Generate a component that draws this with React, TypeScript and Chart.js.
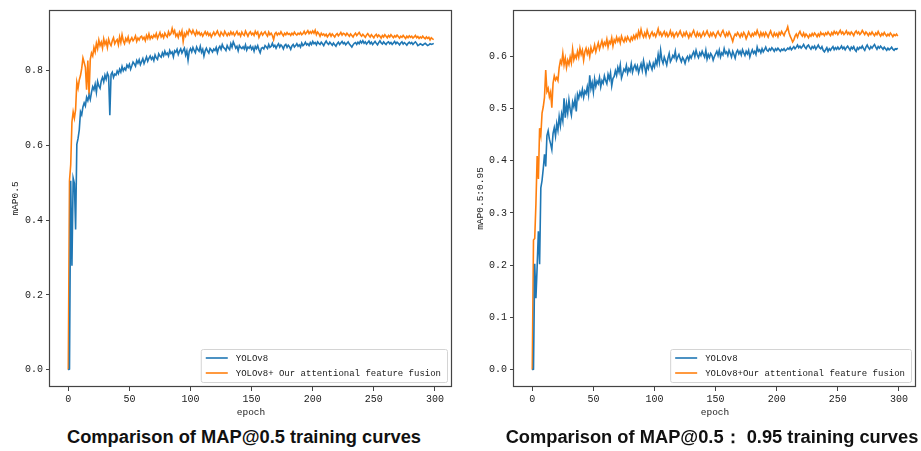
import React, { useEffect, useRef } from "react";
import { Chart, registerables } from "chart.js";

Chart.register(...registerables);

// ---------------- data ----------------
const EPOCHS: number[] = Array.from({ length: 300 }, (_, i) => i);

const X_TICKS = [0, 50, 100, 150, 200, 250, 300];
const Y_TICKS_MAP50 = [0, 0.2, 0.4, 0.6, 0.8];
const Y_TICKS_MAP5095 = [0, 0.1, 0.2, 0.3, 0.4, 0.5, 0.6];

const LABEL_BASE = "YOLOv8";
const LABEL_OURS_MAP50 = "YOLOv8+ Our attentional feature fusion";
const LABEL_OURS_MAP5095 = "YOLOv8+Our attentional feature fusion";

const CAPTION_MAP50 = "Comparison of MAP@0.5 training curves";
const CAPTION_MAP5095 = "Comparison of MAP@0.5\uFF1A 0.95 training curves";

const MAP50_YOLOV8 = [
  0.000, 0.002, 0.505, 0.278, 0.512, 0.498, 0.375, 0.602, 0.618, 0.641,
  0.689, 0.681, 0.702, 0.713, 0.705, 0.728, 0.719, 0.734, 0.722, 0.741,
  0.756, 0.748, 0.763, 0.741, 0.770, 0.758, 0.752, 0.772, 0.781, 0.769,
  0.787, 0.776, 0.792, 0.784, 0.680, 0.789, 0.795, 0.781, 0.790, 0.787,
  0.798, 0.791, 0.803, 0.795, 0.810, 0.799, 0.806, 0.801, 0.814, 0.808,
  0.816, 0.803, 0.812, 0.822, 0.817, 0.811, 0.826, 0.819, 0.828, 0.815,
  0.823, 0.831, 0.818, 0.827, 0.836, 0.824, 0.832, 0.838, 0.829, 0.835,
  0.826, 0.841, 0.833, 0.829, 0.844, 0.838, 0.835, 0.847, 0.839, 0.851,
  0.842, 0.846, 0.838, 0.853, 0.845, 0.849, 0.836, 0.852, 0.848, 0.856,
  0.842, 0.851, 0.857, 0.846, 0.853, 0.859, 0.841, 0.852, 0.827, 0.851,
  0.858, 0.849, 0.861, 0.853, 0.847, 0.862, 0.855, 0.851, 0.864, 0.848,
  0.856, 0.838, 0.852, 0.859, 0.851, 0.846, 0.858, 0.854, 0.849, 0.857,
  0.853, 0.861, 0.847, 0.859, 0.864, 0.856, 0.869, 0.861, 0.858, 0.853,
  0.866, 0.859, 0.855, 0.871, 0.862, 0.876, 0.868, 0.859, 0.864, 0.852,
  0.866, 0.861, 0.858, 0.863, 0.857, 0.868, 0.854, 0.862, 0.859, 0.865,
  0.856, 0.862, 0.851, 0.864, 0.858, 0.866, 0.855, 0.847, 0.859, 0.861,
  0.857, 0.866, 0.862, 0.858, 0.869, 0.861, 0.864, 0.872, 0.863, 0.867,
  0.859, 0.866, 0.871, 0.862, 0.868, 0.864, 0.857, 0.866, 0.869, 0.861,
  0.867, 0.863, 0.856, 0.865, 0.869, 0.862, 0.866, 0.871, 0.864, 0.868,
  0.862, 0.873, 0.866, 0.869, 0.875, 0.868, 0.871, 0.866, 0.874, 0.869,
  0.877, 0.871, 0.874, 0.868, 0.876, 0.872, 0.869, 0.875, 0.871, 0.866,
  0.873, 0.878, 0.872, 0.869, 0.875, 0.871, 0.867, 0.873, 0.868, 0.864,
  0.871, 0.875, 0.869, 0.873, 0.877, 0.871, 0.874, 0.868, 0.872, 0.876,
  0.870, 0.866, 0.862, 0.868, 0.872, 0.874, 0.869, 0.875, 0.871, 0.878,
  0.873, 0.879, 0.872, 0.876, 0.870, 0.874, 0.878, 0.871, 0.875, 0.869,
  0.873, 0.877, 0.872, 0.868, 0.874, 0.879, 0.873, 0.870, 0.876, 0.872,
  0.869, 0.874, 0.876, 0.871, 0.874, 0.869, 0.873, 0.877, 0.871, 0.875,
  0.872, 0.868, 0.873, 0.876, 0.870, 0.874, 0.871, 0.867, 0.872, 0.875,
  0.871, 0.874, 0.869, 0.873, 0.876, 0.872, 0.866, 0.868, 0.871, 0.869,
  0.867, 0.870, 0.872, 0.869, 0.866, 0.868, 0.871, 0.869, 0.870, 0.872,
];

const MAP50_OURS = [
  0.000, 0.505, 0.548, 0.662, 0.689, 0.672, 0.695, 0.768, 0.752, 0.774,
  0.786, 0.805, 0.833, 0.821, 0.808, 0.748, 0.826, 0.735, 0.829, 0.846,
  0.838, 0.861, 0.849, 0.872, 0.858, 0.881, 0.866, 0.875, 0.859, 0.884,
  0.869, 0.878, 0.861, 0.883, 0.872, 0.866, 0.879, 0.887, 0.871, 0.878,
  0.882, 0.868, 0.889, 0.874, 0.895, 0.879, 0.871, 0.885, 0.878, 0.889,
  0.874, 0.881, 0.887, 0.879, 0.884, 0.892, 0.877, 0.886, 0.881, 0.889,
  0.891, 0.883, 0.888, 0.879, 0.893, 0.885, 0.897, 0.884, 0.891, 0.886,
  0.894, 0.889, 0.898, 0.885, 0.893, 0.901, 0.889, 0.895, 0.887, 0.899,
  0.893, 0.889, 0.903, 0.894, 0.898, 0.912, 0.899, 0.906, 0.891, 0.897,
  0.888, 0.902, 0.894, 0.905, 0.877, 0.898, 0.891, 0.903, 0.896, 0.909,
  0.904, 0.898, 0.907, 0.899, 0.893, 0.905, 0.897, 0.902, 0.894, 0.899,
  0.891, 0.897, 0.903, 0.895, 0.901, 0.893, 0.898, 0.889, 0.896, 0.902,
  0.894, 0.899, 0.905, 0.896, 0.891, 0.902, 0.897, 0.893, 0.904, 0.898,
  0.892, 0.899, 0.894, 0.903, 0.896, 0.901, 0.893, 0.898, 0.904, 0.895,
  0.899, 0.891, 0.902, 0.896, 0.893, 0.905, 0.898, 0.891, 0.899, 0.903,
  0.895, 0.899, 0.893, 0.904, 0.897, 0.902, 0.888, 0.896, 0.901, 0.894,
  0.899, 0.903, 0.896, 0.891, 0.902, 0.895, 0.899, 0.893, 0.882, 0.897,
  0.901, 0.894, 0.899, 0.896, 0.903, 0.897, 0.892, 0.899, 0.895, 0.901,
  0.896, 0.898, 0.893, 0.899, 0.895, 0.902, 0.897, 0.894, 0.899, 0.896,
  0.901, 0.895, 0.898, 0.904, 0.897, 0.901, 0.906, 0.898, 0.903, 0.899,
  0.905, 0.899, 0.907, 0.895, 0.902, 0.898, 0.891, 0.899, 0.894, 0.897,
  0.892, 0.896, 0.889, 0.894, 0.898, 0.891, 0.897, 0.893, 0.889, 0.895,
  0.898, 0.892, 0.896, 0.901, 0.894, 0.899, 0.897, 0.893, 0.899, 0.895,
  0.891, 0.897, 0.893, 0.889, 0.895, 0.899, 0.893, 0.897, 0.901, 0.895,
  0.891, 0.896, 0.892, 0.888, 0.894, 0.898, 0.893, 0.889, 0.895, 0.891,
  0.887, 0.893, 0.896, 0.889, 0.894, 0.891, 0.886, 0.893, 0.889, 0.895,
  0.891, 0.887, 0.893, 0.889, 0.895, 0.891, 0.887, 0.892, 0.889, 0.894,
  0.890, 0.886, 0.891, 0.888, 0.893, 0.889, 0.885, 0.891, 0.887, 0.892,
  0.888, 0.891, 0.886, 0.889, 0.893, 0.887, 0.890, 0.885, 0.889, 0.886,
  0.891, 0.887, 0.884, 0.889, 0.885, 0.888, 0.881, 0.887, 0.884, 0.882,
];

const MAP5095_YOLOV8 = [
  0.000, 0.001, 0.203, 0.137, 0.198, 0.265, 0.202, 0.348, 0.362, 0.385,
  0.412, 0.389, 0.448, 0.457, 0.441, 0.432, 0.421, 0.452, 0.463, 0.447,
  0.471, 0.458, 0.484, 0.467, 0.489, 0.476, 0.519, 0.482, 0.508, 0.491,
  0.516, 0.498, 0.487, 0.512, 0.503, 0.518, 0.494, 0.527, 0.519, 0.531,
  0.524, 0.536, 0.521, 0.533, 0.528, 0.541, 0.526, 0.563, 0.538, 0.549,
  0.531, 0.556, 0.542, 0.552, 0.547, 0.559, 0.541, 0.553, 0.548, 0.562,
  0.553, 0.547, 0.565, 0.556, 0.568, 0.543, 0.557, 0.561, 0.572, 0.563,
  0.578, 0.569, 0.583, 0.558, 0.566, 0.575, 0.571, 0.582, 0.567, 0.576,
  0.571, 0.585, 0.569, 0.578, 0.583, 0.574, 0.581, 0.568, 0.577, 0.585,
  0.573, 0.591, 0.579, 0.567, 0.583, 0.576, 0.588, 0.581, 0.574, 0.586,
  0.579, 0.592, 0.584, 0.603, 0.588, 0.611, 0.593, 0.586, 0.598, 0.591,
  0.583, 0.596, 0.605, 0.589, 0.594, 0.601, 0.597, 0.609, 0.592, 0.598,
  0.603, 0.595, 0.589, 0.597, 0.593, 0.586, 0.595, 0.599, 0.592, 0.601,
  0.596, 0.603, 0.608, 0.599, 0.611, 0.602, 0.597, 0.606, 0.601, 0.609,
  0.603, 0.598, 0.611, 0.594, 0.603, 0.597, 0.605, 0.601, 0.592, 0.599,
  0.604, 0.609, 0.601, 0.611, 0.598, 0.606, 0.602, 0.614, 0.605, 0.608,
  0.601, 0.611, 0.605, 0.598, 0.609, 0.603, 0.596, 0.607, 0.611, 0.604,
  0.609, 0.602, 0.612, 0.606, 0.601, 0.609, 0.604, 0.611, 0.598, 0.606,
  0.612, 0.605, 0.609, 0.603, 0.617, 0.609, 0.612, 0.606, 0.614, 0.608,
  0.612, 0.617, 0.611, 0.609, 0.614, 0.611, 0.616, 0.613, 0.609, 0.614,
  0.611, 0.615, 0.612, 0.609, 0.613, 0.611, 0.614, 0.610, 0.612, 0.615,
  0.613, 0.617, 0.612, 0.615, 0.618, 0.614, 0.617, 0.621, 0.616, 0.619,
  0.615, 0.618, 0.622, 0.617, 0.614, 0.619, 0.621, 0.616, 0.613, 0.618,
  0.615, 0.619, 0.613, 0.617, 0.621, 0.616, 0.614, 0.618, 0.611, 0.608,
  0.612, 0.616, 0.609, 0.614, 0.611, 0.615, 0.618, 0.612, 0.616, 0.613,
  0.617, 0.613, 0.615, 0.619, 0.614, 0.617, 0.612, 0.616, 0.619, 0.615,
  0.611, 0.617, 0.614, 0.618, 0.612, 0.609, 0.616, 0.613, 0.617, 0.615,
  0.619, 0.614, 0.611, 0.617, 0.621, 0.616, 0.613, 0.618, 0.615, 0.619,
  0.622, 0.617, 0.613, 0.618, 0.615, 0.619, 0.616, 0.613, 0.617, 0.614,
  0.611, 0.615, 0.612, 0.614, 0.617, 0.613, 0.611, 0.614, 0.613, 0.615,
];

const MAP5095_OURS = [
  0.000, 0.248, 0.251, 0.318, 0.409, 0.365, 0.462, 0.448, 0.491, 0.503,
  0.521, 0.573, 0.532, 0.538, 0.522, 0.531, 0.501, 0.548, 0.562, 0.554,
  0.559, 0.553, 0.578, 0.591, 0.585, 0.605, 0.583, 0.596, 0.578, 0.592,
  0.584, 0.598, 0.587, 0.613, 0.593, 0.602, 0.596, 0.609, 0.598, 0.615,
  0.603, 0.611, 0.592, 0.608, 0.615, 0.604, 0.612, 0.599, 0.616, 0.607,
  0.611, 0.621, 0.608, 0.617, 0.625, 0.613, 0.621, 0.629, 0.618, 0.626,
  0.621, 0.632, 0.617, 0.628, 0.624, 0.635, 0.619, 0.631, 0.626, 0.636,
  0.628, 0.634, 0.625, 0.638, 0.631, 0.627, 0.635, 0.629, 0.637, 0.632,
  0.628, 0.636, 0.631, 0.639, 0.633, 0.641, 0.635, 0.647, 0.638, 0.651,
  0.641, 0.636, 0.644, 0.637, 0.649, 0.641, 0.635, 0.642, 0.646, 0.639,
  0.643, 0.637, 0.644, 0.652, 0.641, 0.645, 0.638, 0.643, 0.647, 0.639,
  0.644, 0.637, 0.641, 0.648, 0.639, 0.644, 0.636, 0.642, 0.645, 0.638,
  0.643, 0.648, 0.641, 0.637, 0.644, 0.639, 0.646, 0.641, 0.635, 0.643,
  0.638, 0.644, 0.649, 0.641, 0.637, 0.645, 0.639, 0.643, 0.636, 0.641,
  0.646, 0.639, 0.643, 0.648, 0.641, 0.637, 0.644, 0.639, 0.645, 0.641,
  0.636, 0.643, 0.647, 0.641, 0.638, 0.645, 0.649, 0.642, 0.637, 0.644,
  0.639, 0.646, 0.641, 0.635, 0.628, 0.637, 0.642, 0.639, 0.645, 0.641,
  0.636, 0.643, 0.638, 0.645, 0.641, 0.633, 0.639, 0.646, 0.641, 0.637,
  0.643, 0.639, 0.645, 0.641, 0.649, 0.642, 0.637, 0.645, 0.639, 0.644,
  0.638, 0.645, 0.641, 0.636, 0.643, 0.648, 0.641, 0.637, 0.644, 0.639,
  0.643, 0.637, 0.645, 0.641, 0.647, 0.643, 0.639, 0.646, 0.649, 0.656,
  0.645, 0.638, 0.633, 0.627, 0.631, 0.638, 0.642, 0.636, 0.643, 0.647,
  0.641, 0.638, 0.644, 0.637, 0.642, 0.639, 0.635, 0.641, 0.638, 0.643,
  0.639, 0.644, 0.641, 0.637, 0.642, 0.638, 0.645, 0.641, 0.643, 0.639,
  0.644, 0.641, 0.646, 0.642, 0.639, 0.645, 0.641, 0.647, 0.643, 0.646,
  0.641, 0.645, 0.649, 0.643, 0.646, 0.641, 0.644, 0.648, 0.642, 0.645,
  0.641, 0.646, 0.643, 0.639, 0.645, 0.648, 0.643, 0.646, 0.641, 0.644,
  0.649, 0.645, 0.641, 0.646, 0.643, 0.639, 0.644, 0.641, 0.646, 0.642,
  0.639, 0.644, 0.641, 0.647, 0.642, 0.638, 0.643, 0.640, 0.645, 0.641,
  0.638, 0.642, 0.639, 0.644, 0.641, 0.637, 0.641, 0.639, 0.642, 0.638,
];

// ---------------- styling ----------------
const BLUE = "#1f77b4";
const ORANGE = "#ff7f0e";
const AXIS_COLOR = "#444444";
const TEXT_COLOR = "#222222";
const MONO = '"Liberation Mono", "DejaVu Sans Mono", monospace';

const frameLegendPlugin = {
  id: "frameLegend",
  afterDatasetsDraw(chart: any) {
    const { ctx, chartArea: a } = chart;
    ctx.save();
    // frame
    ctx.strokeStyle = AXIS_COLOR;
    ctx.lineWidth = 1.2;
    ctx.strokeRect(Math.round(a.left) - 0.5, Math.round(a.top) + 0.5, Math.round(a.right - a.left), Math.round(a.bottom - a.top) - 1);
    // legend (lower right, inside)
    ctx.font = `9px ${MONO}`;
    const sets = chart.data.datasets;
    let tw = 0;
    for (const d of sets) tw = Math.max(tw, ctx.measureText(d.label).width);
    const padL = 5, handle = 22, gap = 8, padR = 6, rowH = 15;
    const boxW = padL + handle + gap + tw + padR;
    const boxH = 33;
    const x0 = a.right - 5 - boxW;
    const y0 = a.bottom - 5 - boxH;
    ctx.beginPath();
    if ((ctx as any).roundRect) (ctx as any).roundRect(x0 + 0.5, y0 + 0.5, boxW, boxH, 2);
    else ctx.rect(x0 + 0.5, y0 + 0.5, boxW, boxH);
    ctx.fillStyle = "rgba(255,255,255,0.85)";
    ctx.fill();
    ctx.strokeStyle = "#d4d4d4";
    ctx.lineWidth = 1;
    ctx.stroke();
    sets.forEach((d: any, i: number) => {
      const y = y0 + 9 + i * rowH;
      ctx.strokeStyle = d.borderColor;
      ctx.lineWidth = 1.6;
      ctx.beginPath();
      ctx.moveTo(x0 + padL, y);
      ctx.lineTo(x0 + padL + handle, y);
      ctx.stroke();
      ctx.fillStyle = TEXT_COLOR;
      ctx.textBaseline = "middle";
      ctx.textAlign = "left";
      ctx.fillText(d.label, x0 + padL + handle + gap, y + 0.5);
    });
    ctx.restore();
  },
};

type Props = {
  left: number;
  width: number;
  height: number;
  yScaleWidth: number;
  padRight: number;
  yTitlePad: number;
  base: number[];
  ours: number[];
  oursLabel: string;
  yTicks: number[];
  yMin: number;
  yMax: number;
  yTitle: string;
};

function MetricChart(p: Props) {
  const ref = useRef<HTMLCanvasElement | null>(null);
  useEffect(() => {
    if (!ref.current) return;
    const chart = new Chart(ref.current, {
      type: "line",
      data: {
        datasets: [
          {
            label: LABEL_BASE,
            data: EPOCHS.map((e, i) => ({ x: e, y: p.base[i] })),
            borderColor: BLUE,
            backgroundColor: BLUE,
            borderWidth: 1.6,
            pointRadius: 0,
            tension: 0,
          },
          {
            label: p.oursLabel,
            data: EPOCHS.map((e, i) => ({ x: e, y: p.ours[i] })),
            borderColor: ORANGE,
            backgroundColor: ORANGE,
            borderWidth: 1.6,
            pointRadius: 0,
            tension: 0,
          },
        ],
      },
      options: {
        animation: false,
        responsive: false,
        devicePixelRatio: 1,
        layout: { padding: { top: 10, right: p.padRight, left: 0, bottom: 0 } },
        plugins: { legend: { display: false }, tooltip: { enabled: false } },
        scales: {
          x: {
            type: "linear",
            min: -14.95,
            max: 313.95,
            afterBuildTicks: (s: any) => {
              s.ticks = X_TICKS.map((v) => ({ value: v }));
            },
            afterFit: (s: any) => {
              s.height = 33;
            },
            grid: { drawOnChartArea: false, drawTicks: true, tickLength: 4, color: AXIS_COLOR },
            border: { display: false },
            ticks: {
              color: TEXT_COLOR,
              font: { family: MONO, size: 10 },
              padding: 2,
              maxRotation: 0,
              autoSkip: false,
              callback: (v: any) => String(v),
            },
            title: {
              display: true,
              text: "epoch",
              color: TEXT_COLOR,
              font: { family: MONO, size: 9.5 },
              padding: { top: 0, bottom: 1.5 },
            },
          },
          y: {
            type: "linear",
            min: p.yMin,
            max: p.yMax,
            afterBuildTicks: (s: any) => {
              s.ticks = p.yTicks.map((v) => ({ value: v }));
            },
            afterFit: (s: any) => {
              s.width = p.yScaleWidth;
            },
            grid: { drawOnChartArea: false, drawTicks: true, tickLength: 4, color: AXIS_COLOR },
            border: { display: false },
            ticks: {
              color: TEXT_COLOR,
              font: { family: MONO, size: 10 },
              padding: 3,
              autoSkip: false,
              callback: (v: any) => Number(v).toFixed(1),
            },
            title: {
              display: true,
              text: p.yTitle,
              color: TEXT_COLOR,
              font: { family: MONO, size: 9.5 },
              padding: { top: p.yTitlePad, bottom: 0 },
            },
          },
        },
      },
      plugins: [frameLegendPlugin],
    } as any);
    return () => chart.destroy();
  }, []);
  return (
    <canvas
      ref={ref}
      width={p.width}
      height={p.height}
      style={{ position: "absolute", left: p.left, top: 0, width: p.width, height: p.height }}
    />
  );
}

const captionStyle = (cx: number): React.CSSProperties => ({
  position: "absolute",
  left: cx,
  top: 425,
  transform: "translateX(-50%)",
  whiteSpace: "nowrap",
  font: 'bold 18.3px "Liberation Sans", Arial, sans-serif',
  lineHeight: "24px",
  color: "#111",
});

export default function App() {
  return (
    <div
      style={{
        position: "fixed",
        left: 0,
        top: 0,
        width: 921,
        height: 451,
        background: "#fff",
        overflow: "hidden",
      }}
    >
      <MetricChart
        left={0}
        width={465}
        height={420}
        yScaleWidth={50}
        padRight={13}
        yTitlePad={10}
        base={MAP50_YOLOV8}
        ours={MAP50_OURS}
        oursLabel={LABEL_OURS_MAP50}
        yTicks={Y_TICKS_MAP50}
        yMin={-0.0458}
        yMax={0.961}
        yTitle="mAP0.5"
      />
      <MetricChart
        left={460}
        width={461}
        height={420}
        yScaleWidth={54}
        padRight={5}
        yTitlePad={14.5}
        base={MAP5095_YOLOV8}
        ours={MAP5095_OURS}
        oursLabel={LABEL_OURS_MAP5095}
        yTicks={Y_TICKS_MAP5095}
        yMin={-0.0328}
        yMax={0.688}
        yTitle="mAP0.5:0.95"
      />
      <div style={captionStyle(244)}>{CAPTION_MAP50}</div>
      <div style={captionStyle(712)}>{CAPTION_MAP5095}</div>
    </div>
  );
}
